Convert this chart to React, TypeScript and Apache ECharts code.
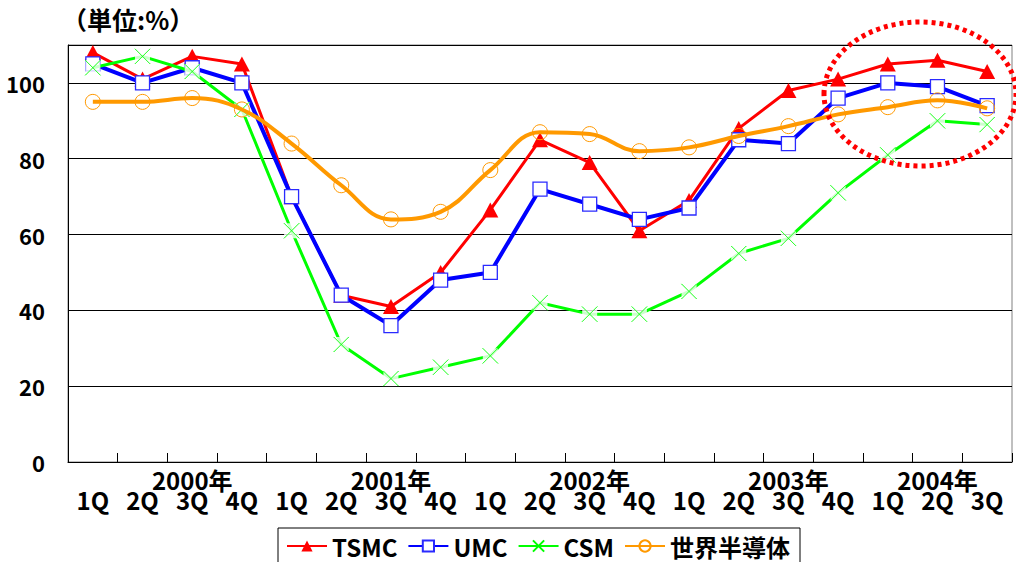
import React, { useEffect, useRef } from "react";
import * as echarts from "echarts";

const quarters = ["1Q","2Q","3Q","4Q","1Q","2Q","3Q","4Q","1Q","2Q","3Q","4Q","1Q","2Q","3Q","4Q","1Q","2Q","3Q"];
const yearLabels = ["","","2000年","","","","2001年","","","","2002年","","","","2003年","","","2004年",""];
const tsmc = [108,101,107,105,70,44,41,50,66.5,85,79,61,69,88,98,101,105,106,103];
const umc = [105,100,104,100,70,44,36,48,50,72,68,64,67,85,84,96,100,99,94];
const csm = [104,107,103,93,61,31,22,25,28,42,39,39,45,55,59,71,81,90,89];
const world = [95,95,96,93,84,73,64,66,77,87,86.5,82,83,86,88.6,91.7,93.6,95.4,93.3];
const yTicks = { min: 0, max: 110, interval: 20 };

const FONT = "'Noto Sans CJK JP', 'Noto Sans', sans-serif";
const X_PATH = "path://M0,0L10,10M10,0L0,10";

export default function App() {
  const ref = useRef<HTMLDivElement>(null);
  useEffect(() => {
    document.body.style.margin = "0";
    const chart = echarts.init(ref.current!, null, { renderer: "svg" });
    chart.setOption({
      animation: false,
      backgroundColor: "#fff",
      title: {
        text: "（単位:%）",
        left: 62,
        top: 6,
        padding: 0,
        textStyle: { fontFamily: FONT, fontSize: 25, fontWeight: "bold", color: "#000" },
      },
      grid: {
        left: 68, right: 4, top: 45, bottom: 100,
        show: true, borderColor: "#808080", borderWidth: 1, backgroundColor: "transparent",
      },
      legend: {
        data: ["TSMC", "UMC", "CSM", "世界半導体"],
        left: 278, top: 528,
        itemWidth: 40, itemHeight: 14, itemGap: 10,
        borderColor: "#000", borderWidth: 1,
        padding: [6, 10, 20, 8],
        textStyle: { fontFamily: FONT, fontSize: 24, fontWeight: "bold", color: "#000" },
      },
      xAxis: [
        {
          type: "category",
          data: quarters,
          boundaryGap: true,
          axisLine: { lineStyle: { color: "#000", width: 1 } },
          axisTick: { show: true, inside: true, length: 9, interval: 0, lineStyle: { color: "#000" } },
          axisLabel: { interval: 0, margin: 25, fontFamily: FONT, fontSize: 24, fontWeight: "bold", color: "#000" },
          splitLine: { show: false },
        },
        {
          type: "category",
          data: yearLabels,
          position: "bottom",
          boundaryGap: true,
          axisLine: { show: false },
          axisTick: { show: false },
          axisLabel: { interval: 0, margin: 5, fontFamily: FONT, fontSize: 24, fontWeight: "bold", color: "#000" },
          splitLine: { show: false },
        },
      ],
      yAxis: {
        type: "value",
        min: yTicks.min, max: yTicks.max, interval: yTicks.interval,
        axisLine: { show: true, lineStyle: { color: "#000" } },
        axisTick: { show: false },
        axisLabel: {
          margin: 23, fontFamily: FONT, fontSize: 22, fontWeight: "bold", color: "#000",
          formatter: (v: number) => (v > 100 ? "" : String(v)),
        },
        splitLine: { lineStyle: { color: "#000", width: 1 } },
      },
      series: [
        {
          name: "TSMC", type: "line", data: tsmc, z: 2,
          symbol: "triangle", symbolSize: [16, 15],
          lineStyle: { color: "#ff0000", width: 3 },
          itemStyle: { color: "#ff0000" },
        },
        {
          name: "UMC", type: "line", data: umc, z: 3,
          symbol: "rect", symbolSize: 14,
          lineStyle: { color: "#0000ff", width: 4 },
          itemStyle: { color: "#ffffff", borderColor: "#2a2aff", borderWidth: 1.3 },
        },
        {
          name: "CSM", type: "line", data: csm, z: 4,
          symbol: X_PATH, symbolSize: 15,
          lineStyle: { color: "#00ff00", width: 3 },
          itemStyle: { color: "#00ff00", borderColor: "#00ff00", borderWidth: 1 },
        },
        {
          name: "csm-bg", type: "scatter", data: csm, z: 5, silent: true,
          symbol: "rect", symbolSize: 15,
          itemStyle: { color: "#ffffff" },
        },
        {
          name: "csm-x", type: "scatter", data: csm, z: 6, silent: true,
          symbol: X_PATH, symbolSize: 15,
          itemStyle: { color: "#00ff00", borderColor: "#00ff00", borderWidth: 1 },
        },
        {
          name: "世界半導体", type: "line", data: world, z: 7,
          smooth: 0.4,
          symbol: "circle", symbolSize: 15,
          lineStyle: { color: "#ff9900", width: 4 },
          itemStyle: { color: "transparent", borderColor: "#ff9900", borderWidth: 1 },
        },
      ],
      graphic: [
        {
          type: "ellipse",
          z: 100,
          shape: { cx: 920, cy: 94, rx: 96, ry: 72 },
          style: { fill: "none", stroke: "#ff0000", lineWidth: 5, lineDash: [4, 4] },
        },
      ],
    });
    return () => chart.dispose();
  }, []);
  return <div ref={ref} style={{ width: 1016, height: 562 }} />;
}
